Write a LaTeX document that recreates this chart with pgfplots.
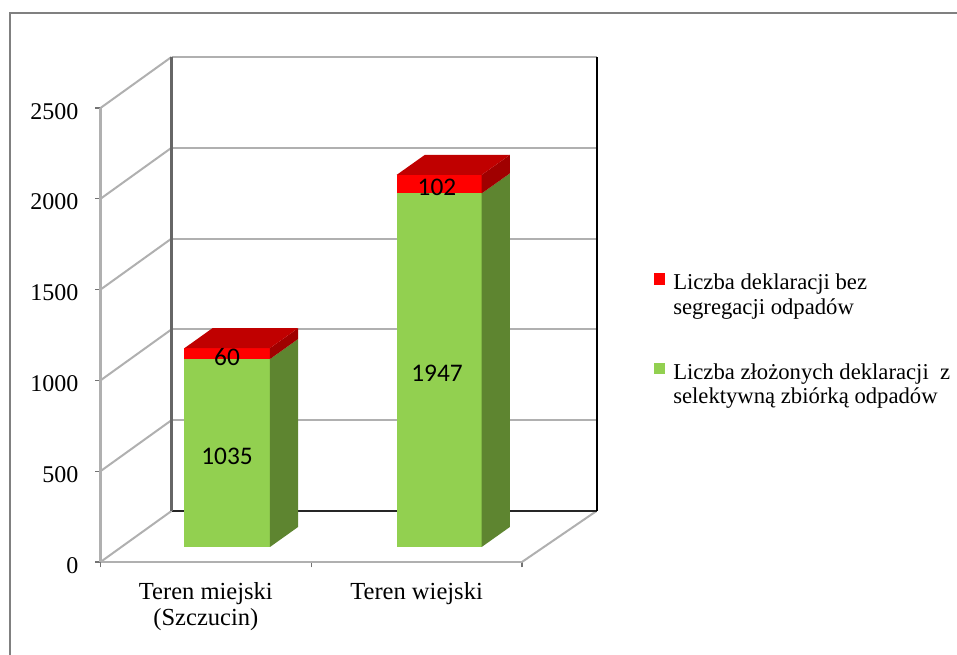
\documentclass[border=0pt]{standalone}
\usepackage{pgfplots}
\pgfplotsset{compat=1.18}
\usepackage{fontspec}
\setmainfont{Liberation Serif}
\newfontfamily\carlito{Carlito}
\definecolor{gridc}{HTML}{B0B0B0}
\definecolor{barG}{HTML}{92D050}
\definecolor{barGs}{HTML}{5E8530}
\definecolor{barR}{HTML}{FF0000}
\definecolor{barRt}{HTML}{C00000}
\definecolor{barRs}{HTML}{A00000}
\begin{document}
\begin{tikzpicture}
\path[use as bounding box] (0,0) rectangle (717.75pt,491.25pt);
\begin{axis}[
  at={(75.375pt,69.75pt)}, anchor=south west,
  scale only axis, width=316.1pt, height=340.5pt,
  xmin=0, xmax=2, ymin=0, ymax=2500, clip=false,
  axis y line=left, axis x line=bottom,
  axis line style={-, draw=gridc, line width=1.6pt},
  tick style={draw=black!55, line width=0.9pt},
  tick align=outside, major tick length=4pt,
  ytick={0,500,1000,1500,2000,2500},
  y tick label style={font=\fontsize{18}{20}\selectfont, xshift=-9pt, yshift=-2.4pt, /pgf/number format/assume math mode=true, /pgf/number format/1000 sep={}},
  xtick={0,1,2}, xticklabels={},
  extra x ticks={0.5,1.5},
  extra x tick labels={{Teren miejski\\(Szczucin)},{Teren wiejski}},
  extra x tick style={major tick length=0pt, tick style={draw=none}},
  x tick label style={font=\fontsize{18.4}{19.5}\selectfont, align=center, yshift=-12pt},
]
% side wall / floor diagonals and back wall gridlines
\addplot[gridc, line width=1.5pt] coordinates {(0,0)(0.337,280.9)};
\addplot[gridc, line width=1.5pt] coordinates {(2,0)(2.354,280.9)};
\addplot[gridc, line width=1.5pt] coordinates {(0,500)(0.337,780.9)};
\addplot[gridc, line width=1.5pt] coordinates {(0,1000)(0.337,1280.9)};
\addplot[gridc, line width=1.5pt] coordinates {(0,1500)(0.337,1780.9)};
\addplot[gridc, line width=1.5pt] coordinates {(0,2000)(0.337,2280.9)};
\addplot[gridc, line width=1.5pt] coordinates {(0,2500)(0.337,2780.9)};
\addplot[gridc, line width=1.5pt] coordinates {(0.337,780.9)(2.354,780.9)};
\addplot[gridc, line width=1.5pt] coordinates {(0.337,1280.9)(2.354,1280.9)};
\addplot[gridc, line width=1.5pt] coordinates {(0.337,1780.9)(2.354,1780.9)};
\addplot[gridc, line width=1.5pt] coordinates {(0.337,2280.9)(2.354,2280.9)};
\addplot[gridc, line width=1.5pt] coordinates {(0.337,2780.9)(2.354,2780.9)};
\addplot[black!85, line width=1.3pt] coordinates {(0.337,280.9)(2.354,280.9)};
\addplot[black!60, line width=1.9pt] coordinates {(0.337,280.9)(0.337,2780.9)};
\addplot[black, line width=1.6pt] coordinates {(2.354,280.9)(2.354,2780.9)};
% bar 1: 1035 + 60, floor offset 82.6
\addplot[fill=barG, draw=none] coordinates {(0.3986,82.6)(0.8043,82.6)(0.8043,1117.6)(0.3986,1117.6)} -- cycle;
\addplot[fill=barR, draw=none] coordinates {(0.3986,1117.6)(0.8043,1117.6)(0.8043,1177.6)(0.3986,1177.6)} -- cycle;
\addplot[fill=barGs, draw=none] coordinates {(0.8043,82.6)(0.9372,192.6)(0.9372,1227.6)(0.8043,1117.6)} -- cycle;
\addplot[fill=barRs, draw=none] coordinates {(0.8043,1117.6)(0.9372,1227.6)(0.9372,1287.6)(0.8043,1177.6)} -- cycle;
\addplot[fill=barRt, draw=none] coordinates {(0.3986,1177.6)(0.8043,1177.6)(0.9372,1287.6)(0.5315,1287.6)} -- cycle;
% bar 2: 1947 + 102
\addplot[fill=barG, draw=none] coordinates {(1.4054,82.6)(1.8088,82.6)(1.8088,2029.6)(1.4054,2029.6)} -- cycle;
\addplot[fill=barR, draw=none] coordinates {(1.4054,2029.6)(1.8088,2029.6)(1.8088,2131.6)(1.4054,2131.6)} -- cycle;
\addplot[fill=barGs, draw=none] coordinates {(1.8088,82.6)(1.9423,192.6)(1.9423,2139.6)(1.8088,2029.6)} -- cycle;
\addplot[fill=barRs, draw=none] coordinates {(1.8088,2029.6)(1.9423,2139.6)(1.9423,2241.6)(1.8088,2131.6)} -- cycle;
\addplot[fill=barRt, draw=none] coordinates {(1.4054,2131.6)(1.8088,2131.6)(1.9423,2241.6)(1.5389,2241.6)} -- cycle;
\end{axis}
\begin{scope}[shift={(0,491.25pt)}, x=0.75pt, y=-0.75pt]
\draw[black!50, line width=1.3pt] (10,655) -- (10,13) -- (957,13);
\node[font=\carlito\fontsize{19}{20}\selectfont] at (227,456) {1035};
\node[font=\carlito\fontsize{19}{20}\selectfont] at (227,357) {60};
\node[font=\carlito\fontsize{19}{20}\selectfont] at (437,373) {1947};
\node[font=\carlito\fontsize{19}{20}\selectfont] at (437,187) {102};
\fill[barR] (654,273) rectangle (665,285);
\fill[barG] (654,363) rectangle (665,374);
\begin{scope}[every node/.style={anchor=base west, inner sep=0pt, font=\fontsize{17}{20}\selectfont}]
\node at (673,290) {Liczba deklaracji bez};
\node at (673,315) {segregacji odpadów};
\node at (673,380) {Liczba złożonych deklaracji\ \ z};
\node at (673,404) {selektywną zbiórką odpadów};
\end{scope}
\end{scope}
\end{tikzpicture}
\end{document}
